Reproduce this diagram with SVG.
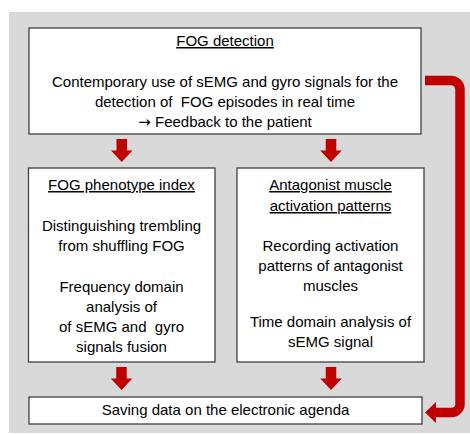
<svg xmlns="http://www.w3.org/2000/svg" width="470" height="434" viewBox="0 0 470 434">
<style>
.box{fill:#ffffff;stroke:#404040;stroke-width:1.3}
.t{font-family:"Liberation Sans",Arial,sans-serif;font-size:15px;fill:#000000;text-anchor:middle}
.u{text-decoration:underline}
.sym{font-family:"DejaVu Sans",sans-serif}
.arr{fill:#c00000}
.conn{fill:none;stroke:#c00000;stroke-width:9.5}
</style>
<defs>
<path id="down" d="M-5.25,0 H5.25 V11.5 H10.75 L0,23 L-10.75,11.5 H-5.25 Z"/>
</defs>
<rect x="9" y="12" width="461" height="421" fill="#d9d9d9"/>
<g id="fog-detection">
<rect class="box" x="29" y="28" width="392" height="106"/>
<text class="t u" x="225" y="46">FOG detection</text>
<text class="t" x="225" y="87">Contemporary use of sEMG and gyro signals for the</text>
<text class="t" x="225" y="107" xml:space="preserve">detection of  FOG episodes in real time</text>
<text class="t" x="225" y="127"><tspan class="sym">→</tspan> Feedback to the patient</text>
</g>
<g id="phenotype-index">
<rect class="box" x="28.5" y="168" width="186.5" height="194"/>
<text class="t u" x="121.5" y="190">FOG phenotype index</text>
<text class="t" x="121.5" y="231">Distinguishing trembling</text>
<text class="t" x="121.5" y="251">from shuffling FOG</text>
<text class="t" x="121.5" y="292">Frequency domain</text>
<text class="t" x="121.5" y="312">analysis of</text>
<text class="t" x="121.5" y="332" xml:space="preserve">of sEMG and  gyro</text>
<text class="t" x="121.5" y="352">signals fusion</text>
</g>
<g id="antagonist">
<rect class="box" x="237" y="168" width="187" height="194"/>
<text class="t u" x="330.5" y="190">Antagonist muscle</text>
<text class="t u" x="330.5" y="211">activation patterns</text>
<text class="t" x="330.5" y="251">Recording activation</text>
<text class="t" x="330.5" y="271">patterns of antagonist</text>
<text class="t" x="330.5" y="291">muscles</text>
<text class="t" x="330.5" y="327">Time domain analysis of</text>
<text class="t" x="330.5" y="347">sEMG signal</text>
</g>
<g id="agenda">
<rect class="box" x="29" y="397" width="393" height="27"/>
<text class="t" x="225.5" y="415">Saving data on the electronic agenda</text>
</g>
<g id="connectors">
<use href="#down" class="arr" x="121.75" y="139"/>
<use href="#down" class="arr" x="331" y="139"/>
<use href="#down" class="arr" x="121.5" y="367"/>
<use href="#down" class="arr" x="331" y="367"/>
<path class="conn" d="M425,80.5 H451 A9,9 0 0 1 460,89.5 V404 A8.5,8.5 0 0 1 451.5,412.5 H434"/>
<polygon class="arr" points="436,402 436,423 425,412.5"/>
</g>
</svg>
